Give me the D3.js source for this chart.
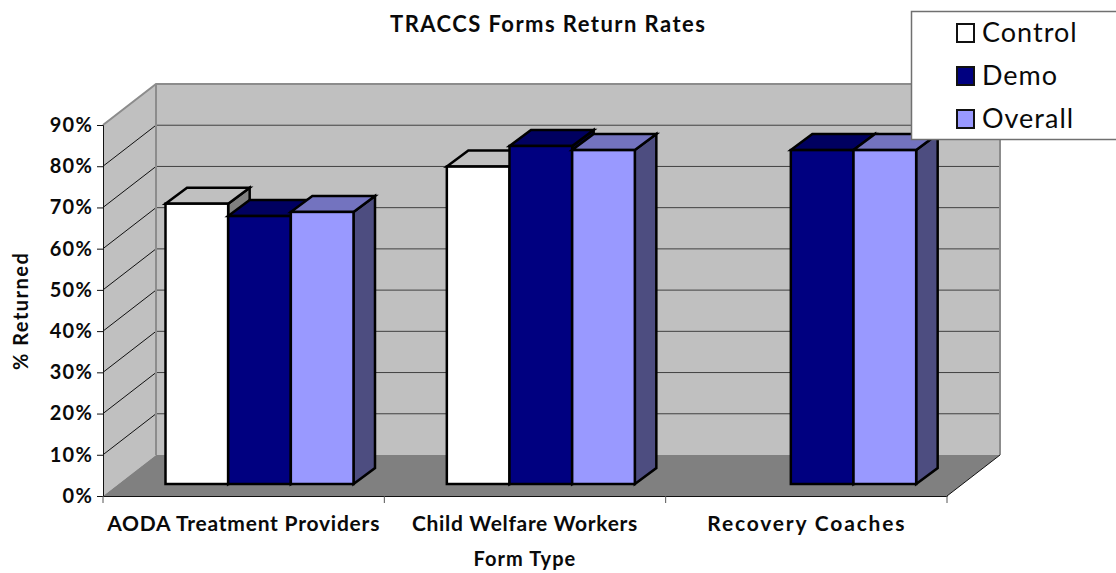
<!DOCTYPE html>
<html>
<head>
<meta charset="utf-8">
<script src="https://cdn.jsdelivr.net/npm/d3@7"></script>
<style>
    html, body { margin: 0; padding: 0; background: #fff; }
    text { font-family: Lato, sans-serif; fill: #0a0a0a; }
    .bold text, text.bold { font-weight: 700; font-size: 20px; letter-spacing: 1.2px; }
    .bold .tick text { font-size: 21px; letter-spacing: 0.8px; }
    text.title { font-size: 22px; }
</style>
</head>
<body>
<div id="chart"></div>
<script>
const categories = ["AODA Treatment Providers", "Child Welfare Workers", "Recovery Coaches"]
const seriesNames = ["Control", "Demo", "Overall"]
const control = [68, 77, null]
const demo = [65, 82, 81]
const overall = [66, 81, 81]
const yTicks = [0, 10, 20, 30, 40, 50, 60, 70, 80, 90]
const seriesValues = [control, demo, overall]
const colors = ["#ffffff", "#000080", "#9999ff"]
const topColors = ["#c0c0c0", "#000060", "#7373bf"]
const sideColors = ["#808080", "#000040", "#4d4d80"]
// the original font is wider than anything installed, so stretch labels to its widths
const categoryWidths = [273, 226, 198]

const width = 1116, height = 573

const svg = d3.select("#chart")
    .append("svg")
    .attr("width", width)
    .attr("height", height)
    .style("display", "block")

/* scales for the front plane of the box */
const x = d3.scaleBand().domain(categories).range([103, 947])
const y = d3.scaleLinear().domain([0, 90]).range([496, 125])
const inner = d3.scaleBand().domain(seriesNames).range([62.5, 250.5])

// depth of the box, and where the bars stand inside it
const depth = { x: 53, y: -41 }
const barShift = { x: 0, y: -12 }
const barDepth = { x: 21.5, y: -16 }

const poly = pts => pts.map(p => p.join(",")).join(" ")

/* walls */
const x0 = x.range()[0], x1 = x.range()[1]
const yTop = y(90), yBase = y(0)
svg.append("polygon").attr("fill", "#c0c0c0")
    .attr("points", poly([[x0 + depth.x, yTop + depth.y], [x1 + depth.x, yTop + depth.y], [x1 + depth.x, yBase + depth.y], [x0 + depth.x, yBase + depth.y]]))
svg.append("polygon").attr("fill", "#c0c0c0")
    .attr("points", poly([[x0, yTop], [x0 + depth.x, yTop + depth.y], [x0 + depth.x, yBase + depth.y], [x0, yBase]]))
svg.append("polygon").attr("fill", "#808080")
    .attr("points", poly([[x0, yBase], [x0 + depth.x, yBase + depth.y], [x1 + depth.x, yBase + depth.y], [x1, yBase]]))

/* gridlines */
const gridTicks = yTicks.filter(d => d > 0 && d < 90)
svg.selectAll("line.back").data(gridTicks).enter().append("line")
    .attr("x1", x0 + depth.x).attr("x2", x1 + depth.x)
    .attr("y1", d => y(d) + depth.y).attr("y2", d => y(d) + depth.y)
    .attr("stroke", "#404040").attr("stroke-width", 1)
svg.selectAll("line.side").data(gridTicks).enter().append("line")
    .attr("x1", x0).attr("x2", x0 + depth.x)
    .attr("y1", d => y(d)).attr("y2", d => y(d) + depth.y)
    .attr("stroke", "#111").attr("stroke-width", 1)

/* wall borders */
svg.append("polyline").attr("fill", "none").attr("stroke", "#8c8c8c").attr("stroke-width", 2)
    .attr("points", poly([[x0, yTop], [x0 + depth.x, yTop + depth.y], [x1 + depth.x, yTop + depth.y], [x1 + depth.x, yBase + depth.y]]))
svg.append("line").attr("stroke", "#8c8c8c").attr("stroke-width", 2)
    .attr("x1", x0 + depth.x).attr("x2", x0 + depth.x)
    .attr("y1", yTop + depth.y).attr("y2", yBase + depth.y)
svg.append("line").attr("stroke", "#111").attr("stroke-width", 1)
    .attr("x1", x1).attr("x2", x1 + depth.x)
    .attr("y1", yBase).attr("y2", yBase + depth.y)

/* bars, left to right so the later ones cover the earlier sides */
const barY = v => y(v) + barShift.y
categories.forEach((cat, c) => {
    seriesNames.forEach((name, s) => {
        const v = seriesValues[s][c]
        if (v === null) return
        const left = x(cat) + inner(name), right = left + inner.bandwidth()
        const top = barY(v), bottom = barY(0)
        const g = svg.append("g")
            .attr("stroke", "#000").attr("stroke-width", 2.5).attr("stroke-linejoin", "miter")
        g.append("polygon").attr("fill", sideColors[s])
            .attr("points", poly([[right, top], [right + barDepth.x, top + barDepth.y], [right + barDepth.x, bottom + barDepth.y], [right, bottom]]))
        g.append("polygon").attr("fill", topColors[s])
            .attr("points", poly([[left, top], [left + barDepth.x, top + barDepth.y], [right + barDepth.x, top + barDepth.y], [right, top]]))
        g.append("rect").attr("fill", colors[s])
            .attr("x", left).attr("y", top)
            .attr("width", inner.bandwidth()).attr("height", bottom - top)
    })
})

/* axes */
const yAxis = svg.append("g")
    .attr("class", "bold")
    .attr("transform", `translate(${x0}, 0)`)
    .call(d3.axisLeft(y).tickValues(yTicks).tickSize(6).tickPadding(4).tickFormat(d => d + "%"))
yAxis.selectAll("line, path").attr("stroke", "#111")
yAxis.selectAll(".tick text").style("font-size", "20px").style("letter-spacing", "1.2px")

const xAxis = svg.append("g")
    .attr("class", "bold")
    .attr("transform", `translate(0, ${yBase})`)
    .call(d3.axisBottom(x).tickSize(0).tickPadding(20))
xAxis.select("path").attr("stroke", "#111").attr("stroke-width", 1)
xAxis.selectAll(".tick text")
    .attr("textLength", (d, i) => categoryWidths[i])
    .attr("lengthAdjust", "spacing")
xAxis.selectAll("line.edge").data(categories.map(d => x(d)).concat([x1])).enter().append("line")
    .attr("x1", d => d).attr("x2", d => d).attr("y1", 0).attr("y2", 7)
    .attr("stroke", "#555")

/* titles */
svg.append("text").attr("class", "bold title").attr("text-anchor", "middle")
    .attr("x", 548).attr("y", 32).attr("textLength", 316).text("TRACCS Forms Return Rates")
svg.append("text").attr("class", "bold").attr("text-anchor", "middle")
    .attr("x", 525).attr("y", 566).attr("textLength", 103).text("Form Type")
svg.append("text").attr("class", "bold").attr("text-anchor", "middle")
    .attr("transform", "translate(28, 311) rotate(-90)").attr("textLength", 118).text("% Returned")

/* legend */
const legendY = d3.scalePoint().domain(seriesNames).range([33, 119])
svg.append("rect")
    .attr("x", 911.5).attr("y", 11.5).attr("width", 220).attr("height", 128)
    .attr("fill", "#fff").attr("stroke", "#707070").attr("stroke-width", 1.5)
const legend = svg.selectAll("g.legend").data(seriesNames).enter().append("g")
    .attr("class", "legend")
    .attr("transform", d => `translate(957, ${legendY(d)})`)
legend.append("rect")
    .attr("x", 0).attr("y", -9).attr("width", 17).attr("height", 18)
    .attr("fill", (d, i) => colors[i]).attr("stroke", "#111").attr("stroke-width", 2)
legend.append("text")
    .attr("x", 25).attr("y", 9)
    .style("font-size", "27px")
    .style("letter-spacing", "1px")
    .text(d => d)
</script>
</body>
</html>
